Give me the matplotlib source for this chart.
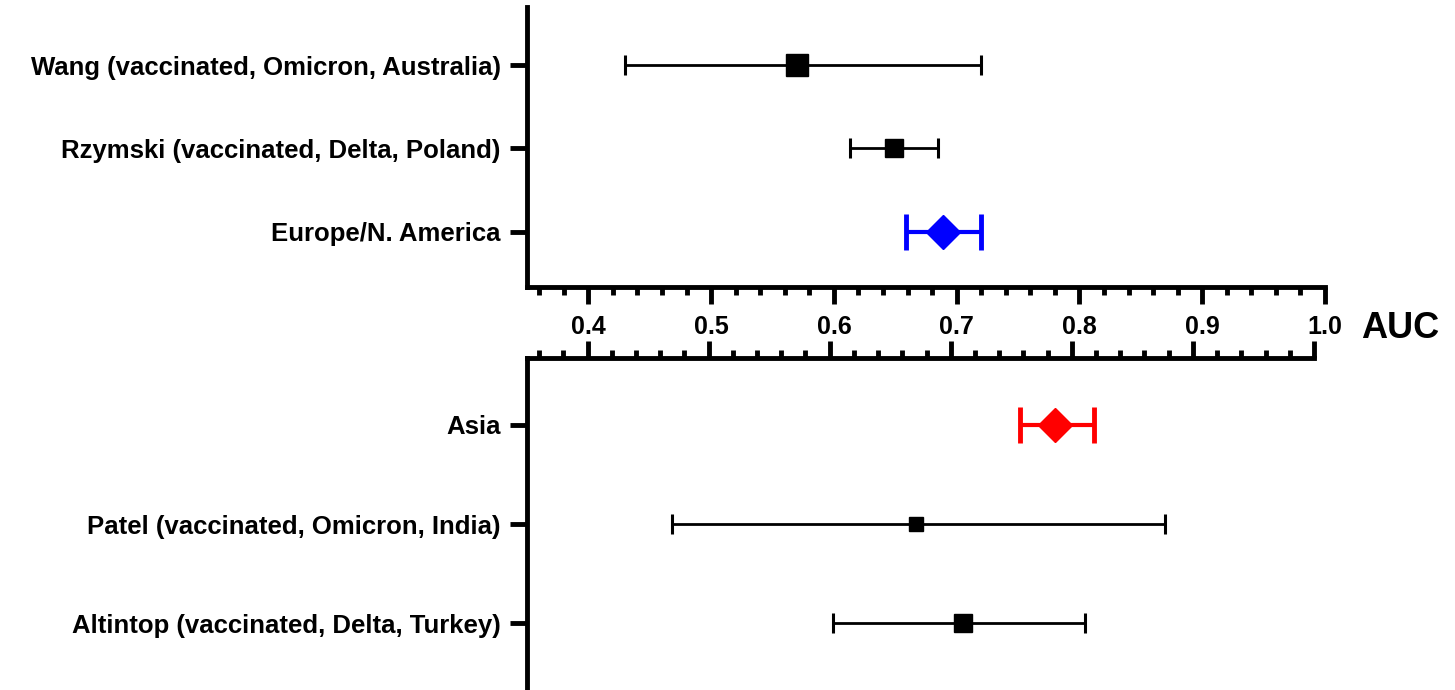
import numpy as np
import matplotlib
matplotlib.use("Agg")
import matplotlib.pyplot as plt
from matplotlib.ticker import MultipleLocator

plt.rcParams['font.family'] = ['Liberation Sans', 'DejaVu Sans']
plt.rcParams['font.weight'] = 'bold'

# data: AUC point estimate with 95% CI
top_labels = ['Wang (vaccinated, Omicron, Australia)',
              'Rzymski (vaccinated, Delta, Poland)',
              'Europe/N. America']
top_auc = [0.57, 0.649, 0.689]
top_low = [0.43, 0.613, 0.659]
top_high = [0.72, 0.685, 0.72]

bot_labels = ['Asia',
              'Patel (vaccinated, Omicron, India)',
              'Altintop (vaccinated, Delta, Turkey)']
bot_auc = [0.786, 0.671, 0.71]
bot_low = [0.757, 0.47, 0.603]
bot_high = [0.818, 0.877, 0.811]

# marker style per row (studies: squares sized by weight, pooled: diamonds)
top_style = [('s', 16, 'black'), ('s', 13.5, 'black'), ('D', 17, '#0000FF')]
bot_style = [('D', 17, '#FF0000'), ('s', 10.5, 'black'), ('s', 13.5, 'black')]

W, H = 1455, 690
fig = plt.figure(figsize=(W / 100, H / 100), dpi=100)

ax1 = fig.add_axes([527 / W, 1 - 287 / H, (1325 - 527) / W, (287 - 7) / H])
ax2 = fig.add_axes([527 / W, 0, (1314 - 527) / W, 1 - 358 / H])


def draw(ax, auc, low, high, styles):
    for i in range(len(auc)):
        m, ms, c = styles[i]
        pooled = m == 'D'
        xerr = [[auc[i] - low[i]], [high[i] - auc[i]]]
        ax.errorbar([auc[i]], [i], xerr=xerr, fmt=m, ms=ms, color=c,
                    mec=c, mfc=c,
                    elinewidth=3 if pooled else 2,
                    capsize=13 if pooled else 7.5,
                    capthick=3.5 if pooled else 2.2, zorder=3)


draw(ax1, top_auc, top_low, top_high, top_style)
draw(ax2, bot_auc, bot_low, bot_high, bot_style)

ax1.set_ylim(2.66, -0.695)
ax2.set_ylim(2.67, -0.673)

for ax, labels in [(ax1, top_labels), (ax2, bot_labels)]:
    ax.set_xlim(0.35, 1.0)
    ax.set_yticks(range(len(labels)))
    ax.set_yticklabels(labels, fontsize=18.5, fontweight='bold')
    ax.xaxis.set_major_locator(MultipleLocator(0.1))
    ax.xaxis.set_minor_locator(MultipleLocator(0.02))
    ax.tick_params(axis='y', length=12, width=3.5, pad=7)
    ax.tick_params(axis='x', which='major', length=12, width=3.5)
    ax.tick_params(axis='x', which='minor', length=6, width=3.5)
    ax.spines['right'].set_visible(False)
    for s in ax.spines.values():
        s.set_linewidth(3.5)
    ax.patch.set_alpha(0)

ax1.spines['top'].set_visible(False)
ax1.set_xticks(np.arange(0.4, 1.01, 0.1))
ax1.set_xticklabels(['%.1f' % v for v in np.arange(0.4, 1.01, 0.1)])
ax1.tick_params(axis='x', which='major', labelsize=18, pad=8)

ax2.spines['bottom'].set_visible(False)
ax2.xaxis.tick_top()
ax2.tick_params(axis='x', which='both', labeltop=False, labelbottom=False)

fig.text(1361 / W, 1 - 328 / H, 'AUC', fontsize=26, fontweight='bold',
         ha='left', va='center')

fig.savefig('out.png', dpi=100)
